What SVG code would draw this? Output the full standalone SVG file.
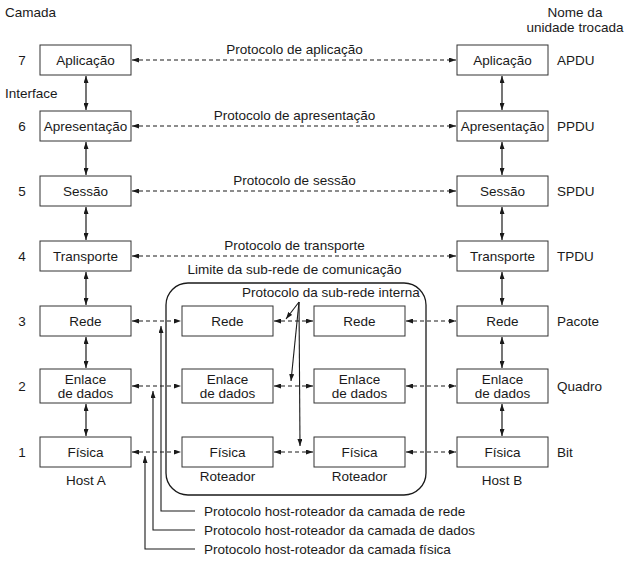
<svg xmlns="http://www.w3.org/2000/svg" width="627" height="562" viewBox="0 0 627 562">
<defs>
<marker id="ah" viewBox="0 0 7 5" refX="7" refY="2.5" markerWidth="7" markerHeight="5" markerUnits="userSpaceOnUse" orient="auto-start-reverse">
<path d="M0,0 L7,2.5 L0,5 z" fill="#1a1a1a"/>
</marker>
</defs>
<style>
text{font-family:"Liberation Sans",Arial,sans-serif;font-size:13.5px;fill:#1a1a1a}
.c{text-anchor:middle}
.box{fill:#fff;stroke:#333;stroke-width:1}
.sol{fill:none;stroke:#1a1a1a;stroke-width:1.2;marker-start:url(#ah);marker-end:url(#ah)}
.dash{fill:none;stroke:#1a1a1a;stroke-width:1.1;stroke-dasharray:4 3;marker-start:url(#ah);marker-end:url(#ah)}
.one{fill:none;stroke:#1a1a1a;stroke-width:1.1;marker-end:url(#ah)}
</style>
<rect width="627" height="562" fill="#fff"/>

<g id="labels">
<text x="5" y="17">Camada</text>
<text x="575" y="17" class="c">Nome da</text>
<text x="575" y="32" class="c">unidade trocada</text>
<text x="5" y="98">Interface</text>
<text x="22" y="65" class="c">7</text>
<text x="22" y="131" class="c">6</text>
<text x="22" y="196" class="c">5</text>
<text x="22" y="261" class="c">4</text>
<text x="22" y="326" class="c">3</text>
<text x="22" y="391" class="c">2</text>
<text x="22" y="457" class="c">1</text>
<text x="557" y="65">APDU</text>
<text x="557" y="131">PPDU</text>
<text x="557" y="196">SPDU</text>
<text x="557" y="261">TPDU</text>
<text x="557" y="326">Pacote</text>
<text x="557" y="391">Quadro</text>
<text x="557" y="457">Bit</text>
<text x="86" y="485" class="c">Host A</text>
<text x="502" y="485" class="c">Host B</text>
<text x="227.5" y="481" class="c">Roteador</text>
<text x="359.5" y="481" class="c">Roteador</text>
<text x="294.5" y="54" class="c">Protocolo de aplicação</text>
<text x="294.5" y="120" class="c">Protocolo de apresentação</text>
<text x="294.5" y="185" class="c">Protocolo de sessão</text>
<text x="294.5" y="250" class="c">Protocolo de transporte</text>
<text x="294.5" y="274" class="c">Limite da sub-rede de comunicação</text>
<text x="242" y="297">Protocolo da sub-rede interna</text>
<text x="204" y="516">Protocolo host-roteador da camada de rede</text>
<text x="204" y="535">Protocolo host-roteador da camada de dados</text>
<text x="204" y="554">Protocolo host-roteador da camada física</text>
</g>

<g id="subnet">
<rect x="166" y="283" width="260" height="212" rx="22" ry="22" fill="none" stroke="#1a1a1a" stroke-width="1.3"/>
</g>

<g id="hostA">
<rect class="box" x="40" y="45" width="91" height="30"/><text x="85.5" y="65" class="c">Aplicação</text>
<rect class="box" x="40" y="111" width="91" height="30"/><text x="85.5" y="131" class="c">Apresentação</text>
<rect class="box" x="40" y="176" width="91" height="30"/><text x="85.5" y="196" class="c">Sessão</text>
<rect class="box" x="40" y="241" width="91" height="30"/><text x="85.5" y="261" class="c">Transporte</text>
<rect class="box" x="40" y="306" width="91" height="30"/><text x="85.5" y="326" class="c">Rede</text>
<rect class="box" x="40" y="369" width="91" height="34"/><text x="85.5" y="384" class="c">Enlace</text><text x="85.5" y="398" class="c">de dados</text>
<rect class="box" x="40" y="437" width="91" height="30"/><text x="85.5" y="457" class="c">Física</text>
</g>

<g id="router1">
<rect class="box" x="182" y="306" width="91" height="30"/><text x="227.5" y="326" class="c">Rede</text>
<rect class="box" x="182" y="369" width="91" height="34"/><text x="227.5" y="384" class="c">Enlace</text><text x="227.5" y="398" class="c">de dados</text>
<rect class="box" x="182" y="437" width="91" height="30"/><text x="227.5" y="457" class="c">Física</text>
</g>

<g id="router2">
<rect class="box" x="314" y="306" width="91" height="30"/><text x="359.5" y="326" class="c">Rede</text>
<rect class="box" x="314" y="369" width="91" height="34"/><text x="359.5" y="384" class="c">Enlace</text><text x="359.5" y="398" class="c">de dados</text>
<rect class="box" x="314" y="437" width="91" height="30"/><text x="359.5" y="457" class="c">Física</text>
</g>

<g id="hostB">
<rect class="box" x="457" y="45" width="91" height="30"/><text x="502.5" y="65" class="c">Aplicação</text>
<rect class="box" x="457" y="111" width="91" height="30"/><text x="502.5" y="131" class="c">Apresentação</text>
<rect class="box" x="457" y="176" width="91" height="30"/><text x="502.5" y="196" class="c">Sessão</text>
<rect class="box" x="457" y="241" width="91" height="30"/><text x="502.5" y="261" class="c">Transporte</text>
<rect class="box" x="457" y="306" width="91" height="30"/><text x="502.5" y="326" class="c">Rede</text>
<rect class="box" x="457" y="369" width="91" height="34"/><text x="502.5" y="384" class="c">Enlace</text><text x="502.5" y="398" class="c">de dados</text>
<rect class="box" x="457" y="437" width="91" height="30"/><text x="502.5" y="457" class="c">Física</text>
</g>

<g id="connectors">
<!-- vertical interfaces -->
<line class="sol" x1="86" y1="76" x2="86" y2="110"/>
<line class="sol" x1="86" y1="142" x2="86" y2="175"/>
<line class="sol" x1="86" y1="207" x2="86" y2="240"/>
<line class="sol" x1="86" y1="272" x2="86" y2="305"/>
<line class="sol" x1="86" y1="337" x2="86" y2="368"/>
<line class="sol" x1="86" y1="404" x2="86" y2="436"/>
<line class="sol" x1="502" y1="76" x2="502" y2="110"/>
<line class="sol" x1="502" y1="142" x2="502" y2="175"/>
<line class="sol" x1="502" y1="207" x2="502" y2="240"/>
<line class="sol" x1="502" y1="272" x2="502" y2="305"/>
<line class="sol" x1="502" y1="337" x2="502" y2="368"/>
<line class="sol" x1="502" y1="404" x2="502" y2="436"/>
<!-- peer protocols -->
<line class="dash" x1="132" y1="60" x2="456" y2="60"/>
<line class="dash" x1="132" y1="126" x2="456" y2="126"/>
<line class="dash" x1="132" y1="191" x2="456" y2="191"/>
<line class="dash" x1="132" y1="256" x2="456" y2="256"/>
<line class="dash" x1="132" y1="321" x2="181" y2="321"/>
<line class="dash" x1="132" y1="386" x2="181" y2="386"/>
<line class="dash" x1="132" y1="452" x2="181" y2="452"/>
<line class="dash" x1="274" y1="321" x2="313" y2="321"/>
<line class="dash" x1="274" y1="386" x2="313" y2="386"/>
<line class="dash" x1="274" y1="452" x2="313" y2="452"/>
<line class="dash" x1="406" y1="321" x2="456" y2="321"/>
<line class="dash" x1="406" y1="386" x2="456" y2="386"/>
<line class="dash" x1="406" y1="452" x2="456" y2="452"/>
<!-- subnet internal protocol pointers -->
<line class="one" x1="299" y1="302" x2="286" y2="319"/>
<line class="one" x1="299" y1="302" x2="291" y2="381"/>
<line class="one" x1="299" y1="302" x2="300" y2="446"/>
<!-- host-router protocol pointers -->
<polyline class="one" points="195,511 161,511 161,326"/>
<polyline class="one" points="195,530 153,530 153,391"/>
<polyline class="one" points="195,549 145,549 145,456"/>
</g>
</svg>
